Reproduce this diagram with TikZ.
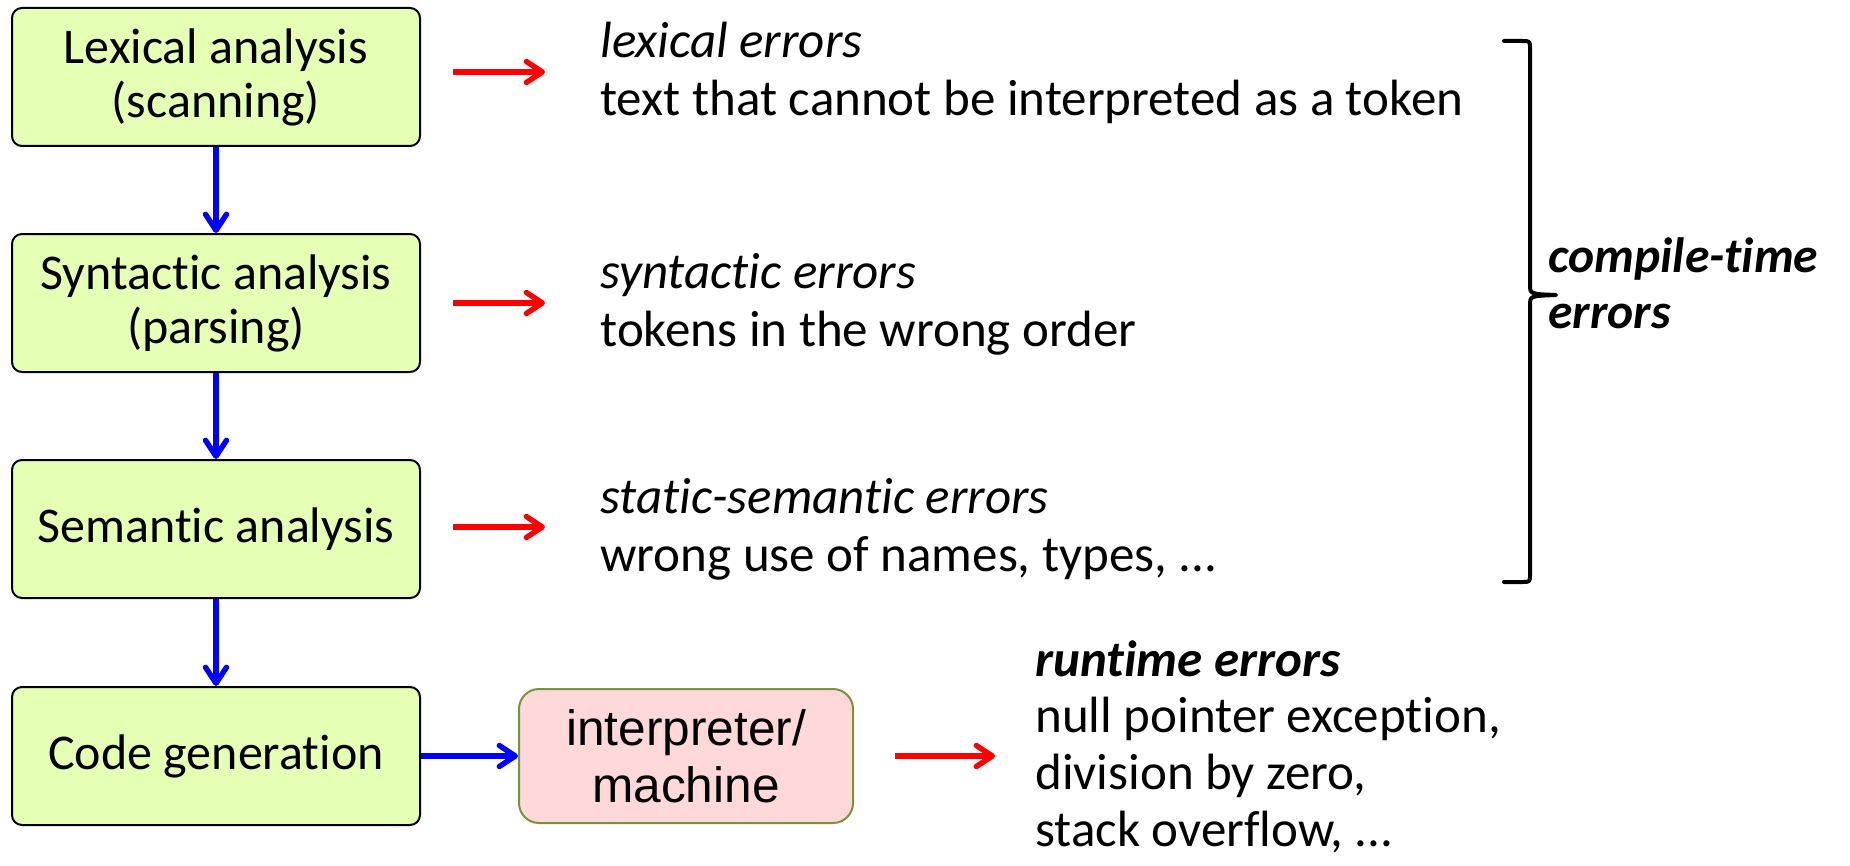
\documentclass[tikz,border=0pt]{standalone}
\usepackage{fontspec}
\setmainfont{Carlito}[Ligatures={TeX,NoCommon}]
\newfontfamily\arialf{Liberation Sans}
\usetikzlibrary{arrows.meta}
\definecolor{stagefill}{RGB}{229,255,181}
\definecolor{interfill}{RGB}{255,217,217}
\definecolor{interdraw}{RGB}{119,147,60}
\begin{document}
\begin{tikzpicture}[x=0.5pt,y=-0.5pt,
  stage/.style={draw=black, line width=1pt, fill=stagefill, rounded corners=5pt,
    minimum width=204pt, minimum height=69pt, align=center, inner sep=0pt,
    font=\fontsize{25}{27}\selectfont},
  interp/.style={draw=interdraw, line width=1pt, fill=interfill, rounded corners=10pt,
    minimum width=167pt, minimum height=67pt, align=center, inner sep=0pt,
    font=\arialf\fontsize{24.8}{28.5}\selectfont},
  errtext/.style={anchor=base west, align=left, inner sep=0pt, font=\fontsize{25.5}{29}\selectfont},
  tip/.style={-{Straight Barb[length=8pt,width=10.5pt,line width=2.7pt,round]}},
  flow/.style={draw=blue, line width=2.8pt, tip},
  errarrow/.style={draw=red, line width=2.7pt, tip},
  bracestyle/.style={draw=black, line width=2pt, line cap=round, line join=round}]
\useasboundingbox (0,0) rectangle (1850,866);

\node[stage] (lex) at (216,77) {Lexical analysis\\(scanning)};
\node[stage] (syn) at (216,303) {Syntactic analysis\\(parsing)};
\node[stage] (sem) at (216,529) {Semantic analysis};
\node[stage] (gen) at (216,756) {Code generation};
\node[interp] (int) at (686,756) {interpreter/\\machine};

\draw[flow] (lex) -- (syn);
\draw[flow] (syn) -- (sem);
\draw[flow] (sem) -- (gen);
\draw[flow] (gen) -- (int);

% anchor base = baseline of the last line
\node[errtext] (lexerr) at (600,116) {\textit{lexical errors}\\text that cannot be interpreted as a token};
\node[errtext] (synerr) at (600,346) {\textit{syntactic errors}\\tokens in the wrong order};
\node[errtext] (semerr) at (600,571) {\textit{static-semantic errors}\\wrong use of names, types, ...};
\node[errtext, font=\fontsize{25.5}{28.3}\selectfont] (runerr) at (1035,846) {\textbf{\textit{runtime errors}}\\null pointer exception,\\division by zero,\\stack overflow, ...};

\draw[errarrow] ([xshift=16pt,yshift=2.5pt]lex.east) -- ++(46pt,0);
\draw[errarrow] ([xshift=16pt]syn.east) -- ++(46pt,0);
\draw[errarrow] ([xshift=16pt,yshift=1pt]sem.east) -- ++(46pt,0);
\draw[errarrow] ([xshift=20.5pt]int.east) -- ++(50pt,0);

\coordinate (bt) at (1504,41);
\coordinate (bb) at (1504,582);
\coordinate (btip) at (1556,295);
\draw[bracestyle] (bt) -- (1522,41) .. controls (1530,41) .. (1530,49) -- (1530,285)
  .. controls (1530,294) .. (btip) .. controls (1530,296) .. (1530,305)
  -- (1530,574) .. controls (1530,582) .. (1522,582) -- (bb);

\node[errtext, font=\bfseries\itshape\fontsize{24.8}{28}\selectfont] (ct) at (1548,328) {compile-time\\errors};
\end{tikzpicture}
\end{document}
